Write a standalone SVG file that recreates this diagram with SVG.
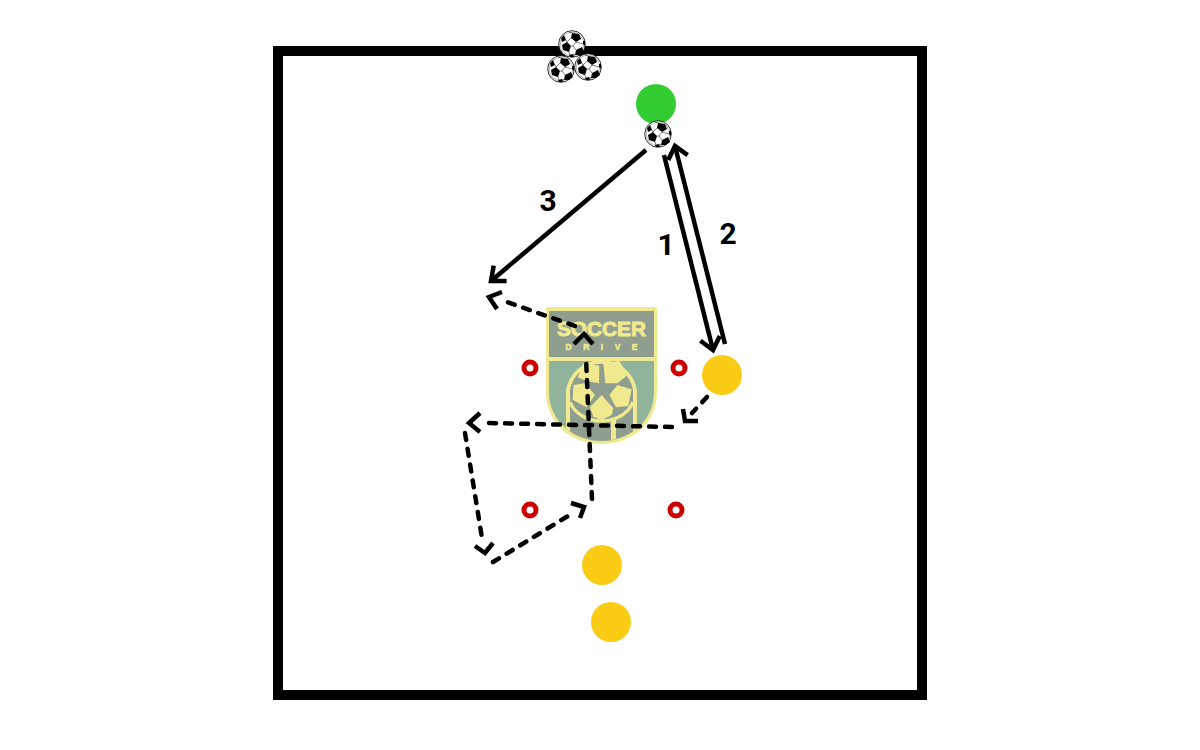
<svg xmlns="http://www.w3.org/2000/svg" width="1200" height="750" viewBox="0 0 1200 750">
<style>
.cone{fill:none;stroke:#cc0000;stroke-width:5}
.yellow{fill:#facc15}
.solid{fill:none;stroke:#000;stroke-width:4.500;marker-end:url(#head)}
.dash{fill:none;stroke:#000;stroke-width:4.500;stroke-dasharray:7 9;stroke-linecap:round}
.chev{fill:none;stroke:#000;stroke-width:4.500}
.num{font-family:Roboto,"Liberation Sans",sans-serif;font-weight:700;font-size:30px;fill:#000;text-anchor:middle}
.lg{fill:#f0e98f}
.lt{font-family:"Liberation Sans",Arial,sans-serif;font-weight:700;fill:#f0e98f;stroke:#f0e98f;text-anchor:middle}
</style>
<defs>
<marker id="head" markerUnits="userSpaceOnUse" markerWidth="30" markerHeight="30" refX="15" refY="15" orient="auto" overflow="visible">
<path d="M3,5 L15,15 L3,25" fill="none" stroke="#000" stroke-width="4.500"/>
</marker>
<clipPath id="shield-clip"><path d="M549,361 H654 V392 C654,422 628,441 601.500,441 C575,441 549,422 549,392Z"/></clipPath>
<symbol id="ball" viewBox="-14 -14 28 28" overflow="visible">
<circle r="13.300" fill="#fff" stroke="#000" stroke-width=".8"/>
<circle r="11.800" fill="none" stroke="#000" stroke-width=".3"/>
<path d="M0,-11 L7,-10 L9,-5 L4,-2 L-1,-6Z M-10,1 L-5,-2 L-1,2 L-3,8 L-9,6Z M4,6 L10,3 L12,8 L8,11 L3,11Z M-11,-6 L-8,-9 L-6,-4 L-10,-2Z M-3,11 L1,10 L2,13 L-2,13Z M11,-3 L13,-3 L13,2 L11,0Z" fill="#000"/>
<path d="M-1,-6 L-5,-2 M4,-2 L11,0 M-3,8 L-2,11 M3,11 L1,10 M4,6 L1,2 L-1,2 M1,2 L4,-2 M-6,-4 L-5,-2 M0,-11 L-3,-12" stroke="#000" stroke-width=".5" fill="none"/>
</symbol>
</defs>
<rect width="1200" height="750" fill="#fff"/>
<g id="field"><rect x="278" y="51" width="644" height="644" fill="none" stroke="#000" stroke-width="10"/></g>
<g id="logo">
<path class="lg" d="M546,307 H657 V392 C657,425 630,444 601.500,444 C573,444 546,425 546,392Z"/>
<rect x="549" y="311" width="105" height="46" fill="#8f9e8e"/>
<path d="M549,361 H654 V392 C654,422 628,441 601.500,441 C575,441 549,422 549,392Z" fill="#8fb39b"/>
<g clip-path="url(#shield-clip)">
<path class="lg" d="M566,445 V390 A36,36 0 0 1 637,390 V445Z"/>
<path fill="#8f9e8e" d="M570,445 V390 A32,32 0 0 1 633,390 V445Z"/>
<path class="lg" d="M611,420 H616 V445 H611Z"/>
<path fill="none" stroke="#f0e98f" stroke-width="3.500" d="M570,402 A33,27 0 0 0 633,402"/>
</g>
<g transform="translate(530,300) scale(.33333)">
<polygon class="lg" points="143,232 160,190 208,197 207,250 172,244"/>
<polygon class="lg" points="220,190 268,182 292,226 262,250 226,250"/>
<polygon class="lg" points="262,255 305,268 295,318 258,322 238,285"/>
<polygon class="lg" points="215,285 250,325 245,345 215,360 190,350 180,322"/>
<polygon class="lg" points="130,255 165,250 195,285 170,322 128,300"/>
</g>
<text class="lt" x="601.500" y="336" font-size="21" stroke-width="1" textLength="89" lengthAdjust="spacingAndGlyphs">SOCCER</text>
<text class="lt" x="601.500" y="349.500" font-size="8.500" stroke-width=".5" textLength="72" lengthAdjust="spacing">DRIVE</text>
</g>
<g id="cone-1"><circle class="cone" cx="530" cy="368" r="6"/></g>
<g id="cone-2"><circle class="cone" cx="679" cy="368" r="6"/></g>
<g id="cone-3"><circle class="cone" cx="530" cy="510" r="6"/></g>
<g id="cone-4"><circle class="cone" cx="676" cy="510" r="6"/></g>
<g id="player-green"><circle cx="656" cy="104" r="20" fill="#33cc33"/></g>
<g id="player-yellow-1"><circle class="yellow" cx="722" cy="375" r="20"/></g>
<g id="player-yellow-2"><circle class="yellow" cx="602" cy="565" r="20"/></g>
<g id="player-yellow-3"><circle class="yellow" cx="611" cy="622" r="20"/></g>
<g id="ball-1"><use href="#ball" x="558" y="30" width="28" height="28"/></g>
<g id="ball-2"><use href="#ball" x="547" y="55" width="28" height="28"/></g>
<g id="ball-3"><use href="#ball" x="574" y="53" width="28" height="28"/></g>
<g id="ball-4"><use href="#ball" x="644" y="120" width="28" height="28"/></g>
<g id="connectors">
<path class="solid" d="M646,150 L491,281"/>
<path class="solid" d="M664,155 L713,350"/>
<path class="solid" d="M725,344 L675,146"/>
<path class="dash" d="M707,397 L692,413"/>
<path class="chev" d="M683,409 L685,421 L698,421"/>
<path class="dash" d="M672,427 L489,423"/>
<path class="chev" d="M480,413 L469,423 L480,432"/>
<path class="dash" d="M465,433 L482,538"/>
<path class="chev" d="M475,546 L485,553 L493,543"/>
<path class="dash" d="M493,562 L568,516"/>
<path class="chev" d="M571,503 L584,507 L580,518"/>
<path class="dash" d="M592,499 L586,358"/>
<path class="chev" d="M574,344 L584,334 L593,344"/>
<path class="dash" d="M575,326 L507,302"/>
<path class="chev" d="M502,292 L489,297 L497,309"/>
</g>
<g id="labels">
<text class="num" x="548" y="211">3</text>
<text class="num" x="666" y="255">1</text>
<text class="num" x="728" y="244">2</text>
</g>
</svg>
